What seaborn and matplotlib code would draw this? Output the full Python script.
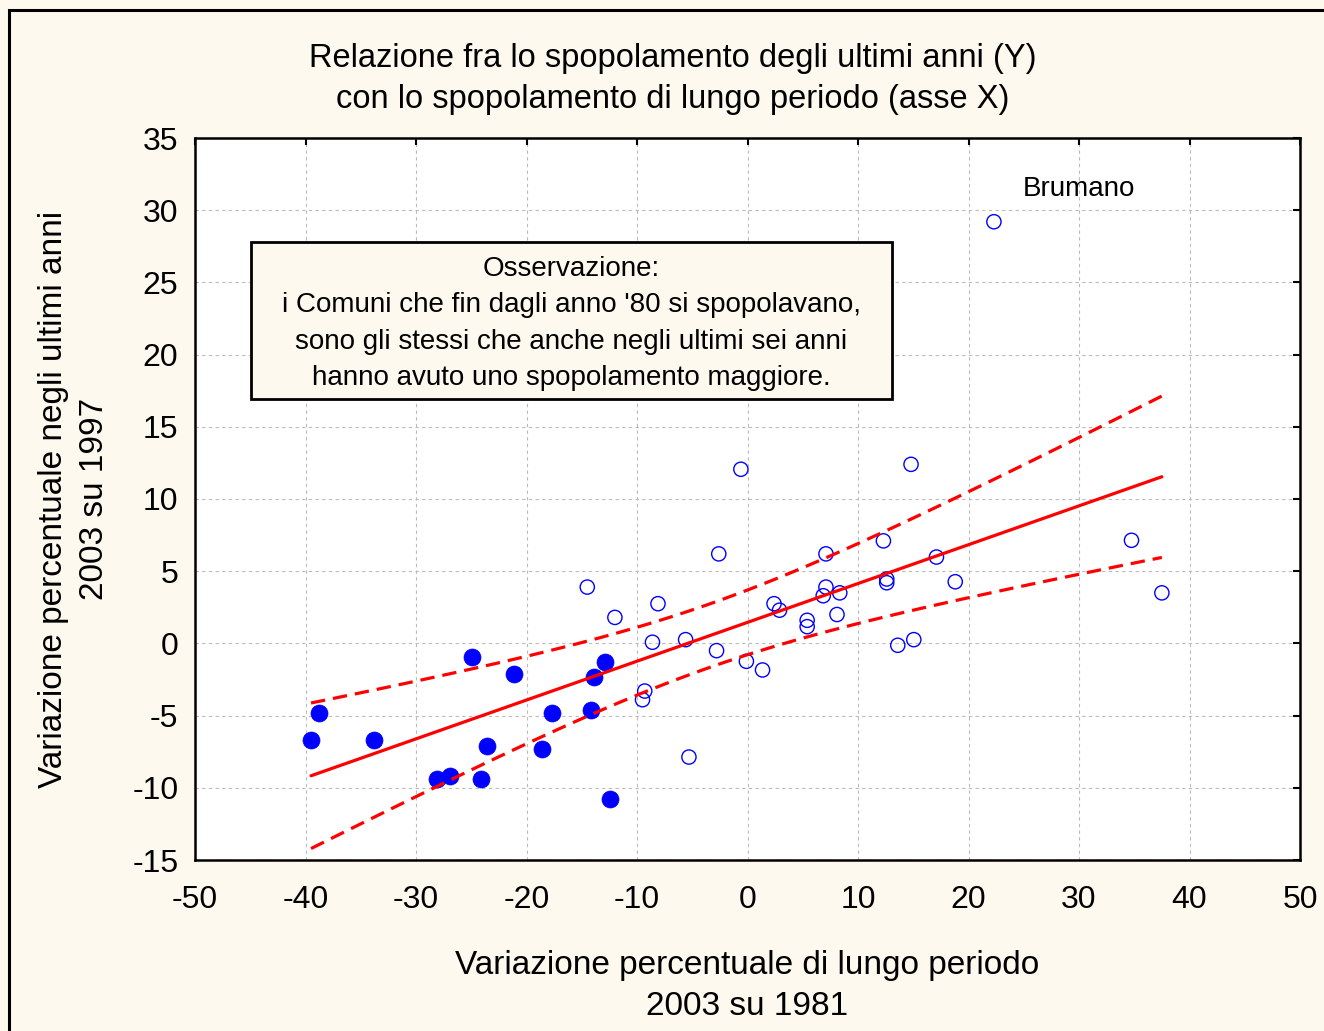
import numpy as np
import pandas as pd
import matplotlib
matplotlib.use("Agg")
import matplotlib.pyplot as plt
from matplotlib.patches import Rectangle
import seaborn as sns

# ---- data ----
x_filled = [-38.8, -39.5, -33.8, -24.9, -21.1, -28.1, -26.9, -24.1, -23.6,
            -18.6, -17.7, -14.2, -13.9, -12.9, -12.4]
y_filled = [-4.8, -6.7, -6.7, -0.96, -2.1, -9.4, -9.2, -9.4, -7.1,
            -7.3, -4.8, -4.6, -2.3, -1.3, -10.8]

x_hollow = [-14.5, -12.0, -8.1, -8.6, -9.3, -9.5, -5.6, -2.8, -0.6, -2.6,
            -0.1, 1.36, 2.4, 2.9, 5.4, 5.4, 7.1, 7.1, 6.85, 8.35,
            8.1, 14.8, 12.3, 12.6, 12.6, 13.6, 15.05, 17.1, 18.8, 22.3,
            34.75, 37.5, -5.3]
y_hollow = [3.9, 1.8, 2.75, 0.08, -3.3, -3.9, 0.26, -0.5, 12.06, 6.2,
            -1.24, -1.84, 2.75, 2.3, 1.6, 1.16, 6.2, 3.9, 3.3, 3.5,
            2.0, 12.4, 7.1, 4.46, 4.2, -0.13, 0.26, 5.98, 4.27, 29.2,
            7.14, 3.5, -7.87]

label_name = "Brumano"
label_x, label_y = 22.3, 29.2

x_ticks = [-50, -40, -30, -20, -10, 0, 10, 20, 30, 40, 50]
y_ticks = [-15, -10, -5, 0, 5, 10, 15, 20, 25, 30, 35]

title = "Relazione fra lo spopolamento degli ultimi anni (Y)\ncon lo spopolamento di lungo periodo (asse X)"
xlabel = "Variazione percentuale di lungo periodo\n2003 su 1981"
ylabel = "Variazione percentuale negli ultimi anni\n2003 su 1997"
note = ("Osservazione:\ni Comuni che fin dagli anno '80 si spopolavano,\n"
        "sono gli stessi che anche negli ultimi sei anni\n"
        "hanno avuto uno spopolamento maggiore.")

df_f = pd.DataFrame({"x": x_filled, "y": y_filled})
df_h = pd.DataFrame({"x": x_hollow, "y": y_hollow})
df_all = pd.concat([df_f, df_h], ignore_index=True)

# ---- style ----
sns.set_theme(style="white")
plt.rcParams["font.family"] = ["Liberation Sans", "DejaVu Sans"]
for k in ["text.color", "axes.labelcolor", "xtick.color", "ytick.color"]:
    plt.rcParams[k] = "black"

bg = "#FDF9EF"
fig = plt.figure(figsize=(13.24, 10.31), dpi=100, facecolor=bg)
ax = fig.add_axes([195 / 1324, 1 - 860 / 1031, 1105 / 1324, 722 / 1031])
ax.set_facecolor("white")

# figure frame
fig.patches.append(Rectangle((9 / 1324, -0.05), 1.2, 1 - 10 / 1031 + 0.05,
                             transform=fig.transFigure, fill=False,
                             edgecolor="black", linewidth=2.2, zorder=0))

# scatter
sns.scatterplot(data=df_f, x="x", y="y", ax=ax, s=150, color="#0000FF",
                edgecolor="#0000FF", linewidth=0.5, zorder=3)
sns.scatterplot(data=df_h, x="x", y="y", ax=ax, s=105, facecolors="none",
                edgecolor="#0000FF", linewidth=1.0, zorder=3)

# regression line
sns.regplot(data=df_all, x="x", y="y", ax=ax, scatter=False, ci=None,
            truncate=True, color="red", line_kws={"linewidth": 2.3, "zorder": 4})

# confidence band of the fitted mean (dashed limits)
xv = df_all["x"].to_numpy()
yv = df_all["y"].to_numpy()
n = len(xv)
b1, b0 = np.polyfit(xv, yv, 1)
res = yv - (b0 + b1 * xv)
s_err = np.sqrt(np.sum(res ** 2) / (n - 2))
t_crit = 3.0  # two-sided critical t (~99.5 %, df = 46)
xg = np.linspace(xv.min(), xv.max(), 100)
yg = b0 + b1 * xg
se = s_err * np.sqrt(1 / n + (xg - xv.mean()) ** 2 / np.sum((xv - xv.mean()) ** 2))
dash = (0, (4.5, 2.5))
sns.lineplot(x=xg, y=yg + t_crit * se, ax=ax, color="red", linewidth=2.3,
             linestyle=dash, zorder=4)
sns.lineplot(x=xg, y=yg - t_crit * se, ax=ax, color="red", linewidth=2.3,
             linestyle=dash, zorder=4)

# axes
ax.set_xlim(-50, 50)
ax.set_ylim(-15, 35)
ax.set_xticks(x_ticks)
ax.set_yticks(y_ticks)
ax.set_xticklabels([str(v) for v in x_ticks])
ax.set_yticklabels([str(v) for v in y_ticks])
ax.tick_params(axis="both", which="both", direction="in", length=5, width=1.5,
               labelsize=23, colors="black", top=True, right=True,
               labeltop=False, labelright=False)
ax.tick_params(axis="x", pad=18)
ax.tick_params(axis="y", pad=12)
ax.grid(True, color="#BBBBBB", linestyle=(0, (3, 3)), linewidth=0.8)
ax.set_axisbelow(True)
for sp in ax.spines.values():
    sp.set_visible(True)
    sp.set_color("black")
    sp.set_linewidth(1.8)

ax.set_xlabel(xlabel, fontsize=24, labelpad=25, linespacing=1.43)
ax.set_ylabel(ylabel, fontsize=24, labelpad=16, linespacing=1.43)

fig.text(673 / 1324, 1 - 79 / 1031, title, ha="center", va="center",
         fontsize=23.5, linespacing=1.45)

# note box
ax.add_patch(Rectangle((0.0507, 0.6385), 0.5801, 0.2175, transform=ax.transAxes,
                       facecolor=bg, edgecolor="black", linewidth=2, zorder=5))
ax.text(0.3407, 0.743, note, transform=ax.transAxes, ha="center", va="center",
        fontsize=20, linespacing=1.52, zorder=6)

# point label
ax.text(label_x + 7.65, label_y + 2.25, label_name, ha="center", va="center",
        fontsize=20, zorder=6)

fig.savefig("out.png", dpi=100, facecolor=bg)
